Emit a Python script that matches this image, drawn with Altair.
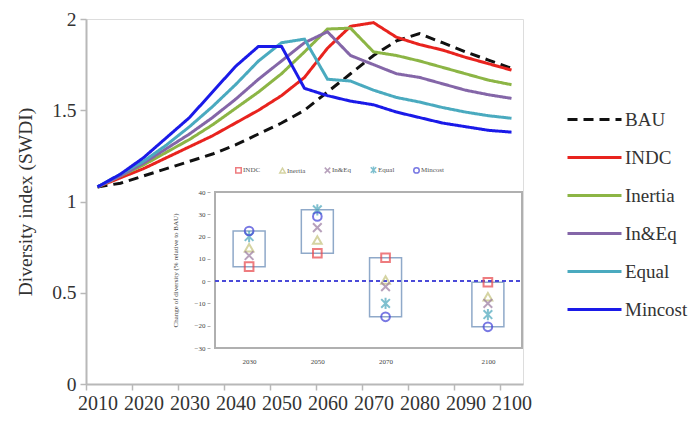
import altair as alt
import pandas as pd

# ---- main chart data (Diversity index, SWDI) ----
years = list(range(2010, 2101, 5))
scenarios = ["BAU", "INDC", "Inertia", "In&Eq", "Equal", "Mincost"]
bau = [1.08, 1.10, 1.14, 1.18, 1.22, 1.26, 1.31, 1.37, 1.43, 1.50, 1.60, 1.70, 1.80, 1.88, 1.92, 1.87, 1.82, 1.775, 1.73]
indc = [1.08, 1.13, 1.18, 1.24, 1.30, 1.36, 1.43, 1.50, 1.58, 1.68, 1.84, 1.96, 1.98, 1.90, 1.86, 1.83, 1.79, 1.755, 1.72]
inertia = [1.08, 1.14, 1.20, 1.27, 1.34, 1.42, 1.51, 1.60, 1.70, 1.82, 1.945, 1.95, 1.82, 1.80, 1.77, 1.735, 1.70, 1.665, 1.64]
in_eq = [1.08, 1.14, 1.21, 1.29, 1.37, 1.46, 1.56, 1.67, 1.77, 1.87, 1.93, 1.80, 1.75, 1.70, 1.68, 1.645, 1.61, 1.585, 1.565]
equal = [1.08, 1.15, 1.22, 1.31, 1.41, 1.52, 1.64, 1.77, 1.87, 1.89, 1.67, 1.66, 1.61, 1.57, 1.545, 1.515, 1.49, 1.47, 1.456]
mincost = [1.08, 1.15, 1.24, 1.35, 1.46, 1.60, 1.74, 1.85, 1.85, 1.62, 1.58, 1.55, 1.53, 1.49, 1.46, 1.43, 1.41, 1.39, 1.38]
line_colors = ["#111111", "#e8231e", "#8cb545", "#8466a8", "#4aaabf", "#1a1ae8"]
line_dashes = [[10, 6], [1, 0], [1, 0], [1, 0], [1, 0], [1, 0]]

# ---- inset data (% change of diversity relative to BAU) ----
inset_years = [2030, 2050, 2070, 2100]
inset_scen = ["INDC", "Inertia", "In&Eq", "Equal", "Mincost"]
indc_chg = [6.5, 12.5, 10.5, -0.5]
inertia_chg = [15, 18.5, 0.5, -7]
ineq_chg = [11.5, 24, -2.5, -10]
equal_chg = [20, 32, -10, -15]
mincost_chg = [22.5, 29, -16, -20.5]
inset_colors = ["#e8454a", "#c4c27c", "#9a7aa0", "#4aa6bc", "#4040d8"]
inset_shapes = ["square", "triangle-up",
                "M-1,-1L1,1M-1,1L1,-1",
                "M-1,-1L1,1M-1,1L1,-1M0,-1.3L0,1.3",
                "circle"]

series = [bau, indc, inertia, in_eq, equal, mincost]
main_df = pd.DataFrame([
    {"year": y, "value": v, "scenario": s}
    for s, vals in zip(scenarios, series)
    for y, v in zip(years, vals)
])
chg = [indc_chg, inertia_chg, ineq_chg, equal_chg, mincost_chg]
inset_df = pd.DataFrame([
    {"year": y, "change": v, "scenario": s}
    for s, vals in zip(inset_scen, chg)
    for y, v in zip(inset_years, vals)
])

FONT = "Liberation Serif"
TOP = 11      # top padding
H = 365       # plot height

main_legend = alt.Legend(
    orient="none", legendX=497, legendY=89, title=None,
    labelFontSize=19, labelFont=FONT, labelColor="#333333",
    symbolType="M-2.7,0L2.7,0", symbolSize=400, symbolStrokeWidth=3,
    labelOffset=19, rowPadding=16, padding=0,
)

lines = alt.Chart(main_df).mark_line(strokeWidth=3).encode(
    x=alt.X("year:Q", title=None,
            scale=alt.Scale(domain=[2007.5, 2102.5], nice=False, zero=False),
            axis=alt.Axis(values=[2007.5 + 10 * i for i in range(10)],
                          labelExpr="format(datum.value + 2.5, 'd')",
                          labelOffset=11.5, labelFontSize=20, labelFont=FONT,
                          labelColor="#333333", labelPadding=3, labelOverlap=False,
                          labelFlush=False, labelBound=False,
                          tickSize=6, tickColor="#b8b8b8", tickWidth=1.5,
                          domainColor="#b8b8b8", domainWidth=2, grid=False)),
    y=alt.Y("value:Q", title="Diversity index (SWDI)",
            scale=alt.Scale(domain=[0, 2], nice=False, zero=False),
            axis=alt.Axis(values=[0, 0.5, 1, 1.5, 2], format="~g",
                          labelFontSize=19.5, labelFont=FONT, labelColor="#333333",
                          labelPadding=4, tickSize=6, tickColor="#b8b8b8",
                          tickWidth=1.5, domainColor="#b8b8b8", domainWidth=2,
                          labelFlush=False, labelBound=False,
                          grid=False, titleFont=FONT, titleFontSize=19.5,
                          titleFontWeight="normal", titleColor="#333333",
                          titlePadding=16)),
    color=alt.Color("scenario:N", scale=alt.Scale(domain=scenarios, range=line_colors),
                    legend=main_legend),
    strokeDash=alt.StrokeDash("scenario:N", scale=alt.Scale(domain=scenarios, range=line_dashes),
                              legend=main_legend),
    order=alt.Order("year:Q"),
    detail="scenario:N",
)

xs = alt.Scale(domain=[2020, 2110], range=[124, 441], nice=False, zero=False)
ys = alt.Scale(domain=[-30, 40], range=[329, 173], nice=False, zero=False)

frame = alt.Chart(inset_df).mark_rect(fillOpacity=0, stroke="#b0b0b0", strokeWidth=1.2).encode(
    x=alt.X(datum=2020, scale=xs,
            axis=alt.Axis(orient="bottom", offset=-36, values=inset_years, format="d",
                          ticks=False, domain=False, grid=False, labelFontSize=7,
                          labelFont=FONT, labelColor="#444444", labelPadding=9, title=None)),
    x2=alt.X2(datum=2110),
    y=alt.Y(datum=-30, scale=ys,
            axis=alt.Axis(orient="left", offset=-124, values=[-30, -20, -10, 0, 10, 20, 30, 40],
                          tickSize=3, tickColor="#b0b0b0", domain=False, grid=False,
                          labelFontSize=7, labelFont=FONT, labelColor="#444444", labelPadding=2,
                          title="Change of diversity (% relative to BAU)", titleFontSize=7,
                          titleFont=FONT, titleFontWeight="normal", titleColor="#444444",
                          titlePadding=16)),
    y2=alt.Y2(datum=40),
)

boxes = alt.Chart(inset_df).mark_bar(size=32, fillOpacity=0, stroke="#8fa9c9", strokeWidth=1.5).encode(
    x=alt.X("year:Q", scale=xs),
    y=alt.Y("min(change):Q", scale=ys),
    y2=alt.Y2("max(change):Q"),
)

zero_rule = alt.Chart(inset_df).mark_rule(color="#4b4bd8", strokeDash=[4, 3], strokeWidth=1.3).encode(
    x=alt.X(datum=2020, scale=xs),
    x2=alt.X2(datum=2110),
    y=alt.Y(datum=0, scale=ys),
)

inset_legend = alt.Legend(
    orient="none", legendX=149, legendY=147, direction="horizontal", title=None,
    labelFontSize=7, labelFont=FONT, labelColor="#555555", symbolSize=30,
    symbolStrokeWidth=1.5, columnPadding=15, labelOffset=1, padding=0,
)

points = alt.Chart(inset_df).mark_point(filled=False, size=75, strokeWidth=2).encode(
    x=alt.X("year:Q", scale=xs),
    y=alt.Y("change:Q", scale=ys),
    color=alt.Color("scenario:N", scale=alt.Scale(domain=inset_scen, range=inset_colors),
                    legend=inset_legend),
    shape=alt.Shape("scenario:N", scale=alt.Scale(domain=inset_scen, range=inset_shapes),
                    legend=inset_legend),
)

inset = alt.layer(frame, boxes, zero_rule, points)

chart = alt.layer(lines, inset).resolve_scale(
    x="independent", y="independent", color="independent",
    shape="independent", strokeDash="independent",
).properties(
    width=437, height=H,
    autosize=alt.AutoSizeParams(type="none"),
    padding={"left": 78, "top": TOP, "right": 169, "bottom": 30},
).configure_view(stroke=None).configure(background="white")

chart.save("out.html", embed_options={"renderer": "svg", "actions": False})
